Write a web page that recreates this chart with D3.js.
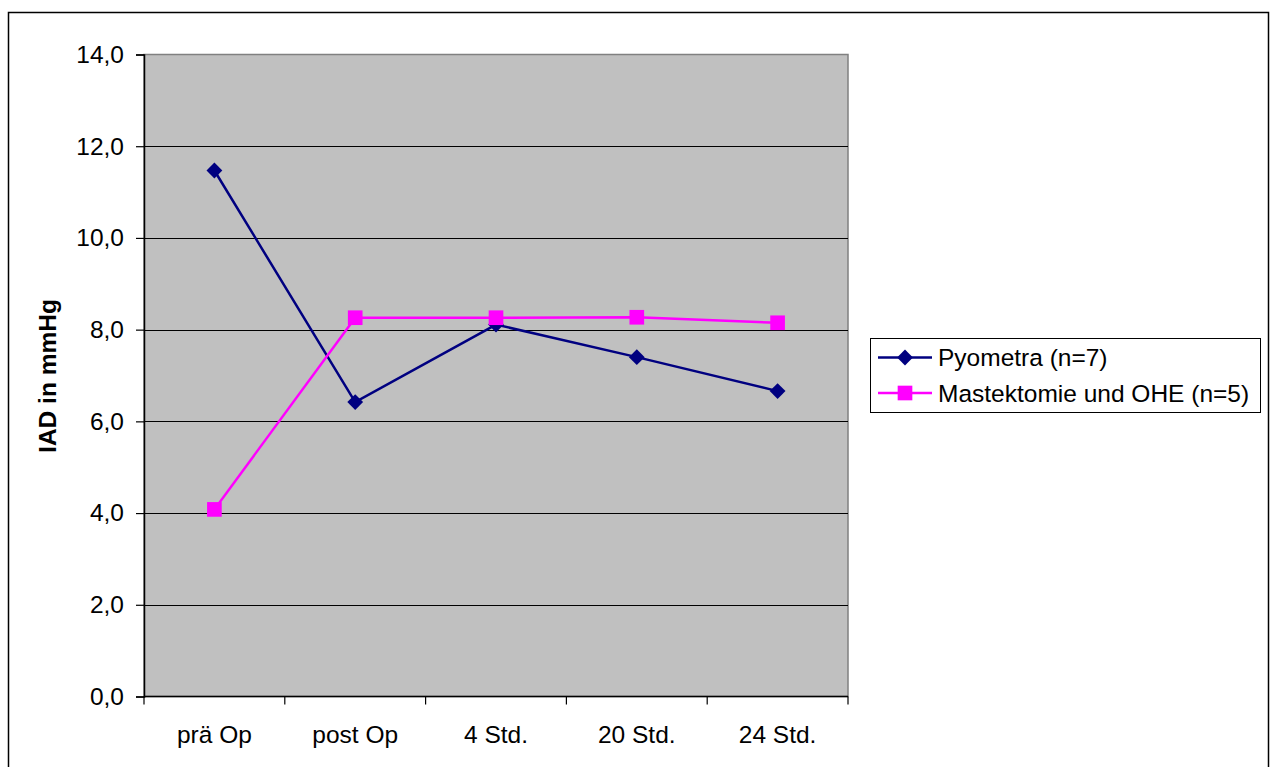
<!DOCTYPE html>
<html>
<head>
<meta charset="utf-8">
<script src="https://cdn.jsdelivr.net/npm/d3@7"></script>
<style>
  html, body { margin: 0; padding: 0; background: #fff; }
  svg { display: block; font-family: "Liberation Sans", Arial, Helvetica, sans-serif; }
</style>
</head>
<body>
<svg id="chart" width="1270" height="767"></svg>
<script>
// Zeitpunkte der Messung
const categories = ["prä Op", "post Op", "4 Std.", "20 Std.", "24 Std."];
// Mittelwerte IAD (mmHg)
const pyometra = [11.47, 6.42, 8.11, 7.40, 6.66];
const mastektomie = [4.08, 8.26, 8.26, 8.27, 8.15];
const seriesNames = ["Pyometra (n=7)", "Mastektomie und OHE (n=5)"];
const yTicks = [0, 2, 4, 6, 8, 10, 12, 14];
const yLabel = "IAD in mmHg";

const FS = 24.5;
const svg = d3.select("#chart");
const plot = { left: 144, top: 54.5, right: 848, bottom: 696.5 };

// outer chart frame
svg.append("rect")
  .attr("x", 8.5).attr("y", 12.5)
  .attr("width", 1260).attr("height", 770)
  .attr("fill", "#fff").attr("stroke", "#000").attr("stroke-width", 1.5);

const x = d3.scaleBand().domain(categories).range([plot.left, plot.right]);
const y = d3.scaleLinear().domain([0, 14]).range([plot.bottom, plot.top]);

// plot area background
svg.append("rect")
  .attr("x", plot.left).attr("y", plot.top)
  .attr("width", plot.right - plot.left).attr("height", plot.bottom - plot.top)
  .attr("fill", "#c0c0c0").attr("stroke", "#808080").attr("stroke-width", 1.5);

// horizontal gridlines
svg.append("g").selectAll("line")
  .data(yTicks.filter(d => d > 0 && d < 14))
  .join("line")
  .attr("x1", plot.left).attr("x2", plot.right)
  .attr("y1", d => Math.round(y(d)) + 0.5).attr("y2", d => Math.round(y(d)) + 0.5)
  .attr("stroke", "#000").attr("stroke-width", 1);

// y axis
const yAxis = svg.append("g")
  .attr("transform", `translate(${plot.left},0)`)
  .call(d3.axisLeft(y).tickValues(yTicks).tickSize(8).tickPadding(12)
    .tickFormat(d => d3.format(".1f")(d).replace(".", ",")));
yAxis.select(".domain").attr("stroke", "#000").attr("stroke-width", 1.5);
yAxis.selectAll(".tick line").attr("stroke", "#000").attr("stroke-width", 1.2);
yAxis.selectAll("text").attr("font-size", FS).attr("fill", "#000")
  .attr("font-family", "Liberation Sans, Arial, sans-serif");

// x axis with ticks at category boundaries
const xAxisG = svg.append("g").attr("transform", `translate(0,${plot.bottom})`);
xAxisG.append("line")
  .attr("x1", plot.left).attr("x2", plot.right)
  .attr("y1", 0).attr("y2", 0)
  .attr("stroke", "#000").attr("stroke-width", 1.5);
const boundaries = categories.map(c => x(c)).concat([x(categories[categories.length - 1]) + x.bandwidth()]);
xAxisG.selectAll("line.tk").data(boundaries).join("line")
  .attr("class", "tk")
  .attr("x1", d => d).attr("x2", d => d)
  .attr("y1", 0).attr("y2", 8)
  .attr("stroke", "#000").attr("stroke-width", 1.2);
xAxisG.selectAll("text").data(categories).join("text")
  .attr("x", d => x(d) + x.bandwidth() / 2)
  .attr("y", 46)
  .attr("text-anchor", "middle")
  .attr("font-size", FS)
  .attr("fill", "#000")
  .text(d => d);

// y axis title
svg.append("text")
  .attr("transform", "translate(56,376) rotate(-90)")
  .attr("text-anchor", "middle")
  .attr("font-size", FS)
  .attr("font-weight", "bold")
  .attr("fill", "#000")
  .text(yLabel);

const cx = d => x(d) + x.bandwidth() / 2;
const line = d3.line().x(d => cx(d.cat)).y(d => y(d.v));

// diamond = square rotated by 45 degrees
const series = [
  { name: seriesNames[0], values: pyometra, color: "#000080", symbol: d3.symbolSquare, size: 125, rot: 45 },
  { name: seriesNames[1], values: mastektomie, color: "#ff00ff", symbol: d3.symbolSquare, size: 215, rot: 0 }
];

series.forEach(s => {
  const pts = s.values.map((v, i) => ({ cat: categories[i], v }));
  svg.append("path")
    .datum(pts)
    .attr("d", line)
    .attr("fill", "none")
    .attr("stroke", s.color)
    .attr("stroke-width", 2.5);
  svg.append("g").selectAll("path")
    .data(pts).join("path")
    .attr("transform", d => `translate(${cx(d.cat)},${y(d.v)}) rotate(${s.rot})`)
    .attr("d", d3.symbol(s.symbol, s.size))
    .attr("fill", s.color);
});

// legend
const legend = svg.append("g");
legend.append("rect")
  .attr("x", 870.5).attr("y", 338.5)
  .attr("width", 390).attr("height", 74)
  .attr("fill", "#fff").attr("stroke", "#000").attr("stroke-width", 1);
series.forEach((s, i) => {
  const ly = 357.5 + i * 35.5;
  legend.append("line")
    .attr("x1", 878).attr("x2", 932)
    .attr("y1", ly).attr("y2", ly)
    .attr("stroke", s.color).attr("stroke-width", 2.5);
  legend.append("path")
    .attr("transform", `translate(905,${ly}) rotate(${s.rot})`)
    .attr("d", d3.symbol(s.symbol, s.size))
    .attr("fill", s.color);
  legend.append("text")
    .attr("x", 938).attr("y", ly + 8.5)
    .attr("font-size", FS)
    .attr("fill", "#000")
    .text(s.name);
});
</script>
</body>
</html>
